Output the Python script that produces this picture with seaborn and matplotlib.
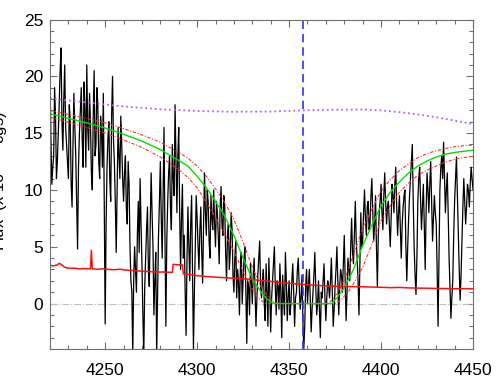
import numpy as np
import pandas as pd
import seaborn as sns
import matplotlib.pyplot as plt
from matplotlib.ticker import MultipleLocator

# spectrum, flux at whole Angstroms 4220..4450
spec_flux_int = [
    20.0, 10.5, 13.0, 16.5, 12.5, 17.5, 22.5, 13.5, 21.0, 14.0,
    11.0, 16.0, 8.5, 18.5, 13.0, 4.8, 15.0, 19.0, 12.0, 17.0,
    21.0, 13.5, 16.0, 10.0, 20.5, 14.0, 17.5, 11.0, 15.0, 18.5,
    -1.8, 12.0, 16.0, 9.0, 20.0, 12.5, 4.5, 15.5, 11.0, 14.0,
    9.0, 13.0, 7.0, 10.5, 2.0, -4.5, 5.0, 1.0, 9.0, 11.0,
    3.5, -4.5, 4.0, 8.5, 1.5, 11.5, 5.0, 2.0, -4.5, 6.0,
    12.5, 4.0, 15.5, -2.0, 9.0, 13.0, 6.5, 11.0, 17.5, 8.0,
    15.5, 3.0, 10.5, 6.0, -2.8, 8.5, 2.0, 9.5, -4.0, 5.0,
    7.5, 3.0, 8.5, 1.8, 11.5, 6.0, 9.0, 4.0, 7.5, 10.0,
    5.0, 8.0, 3.5, 10.3, 6.0, 8.5, 2.0, 7.0, 4.5, 6.5,
    1.0, 5.5, 3.0, -1.0, 4.5, 2.0, 5.0, -3.5, 1.5, 3.5,
    0.0, 4.0, -2.0, 2.5, 5.5, 0.5, 3.0, -1.5, 1.0, 4.0,
    -2.5, 2.0, 5.0, -1.0, 1.5, 3.5, -3.0, 0.5, 4.5, -1.5,
    2.0, 0.0, 3.5, -2.0, 1.0, 4.0, -0.5, 2.5, -4.0, 1.5,
    0.0, 3.0, -2.5, 1.0, 4.5, -1.0, 2.0, -3.0, 0.5, 3.5,
    -1.5, 2.0, 0.5, 4.0, -2.0, 1.5, 5.0, -1.0, 3.0, 1.0,
    6.0, -1.5, 4.0, 2.0, 7.5, 3.5, 9.0, 4.0, -1.0, 8.0,
    5.5, 10.0, 6.0, 9.0, 7.0, 11.0, 5.5, 9.5, 1.5, 8.0,
    10.5, 6.5, 11.5, 7.0, 9.0, 5.0, 10.5, 8.0, 12.0, 6.0,
    9.5, 4.0, 8.5, 10.0, 2.0, 7.5, 11.0, 14.0, 5.0, 0.8,
    9.0, 12.0, 6.5, 10.5, 3.0, 11.5, 8.0, 12.5, 5.5, 9.5,
    7.0, -2.0, 10.0, 13.0, 14.2, 8.0, 11.5, 4.0, -1.3, 2.0,
    9.0, 12.9, 6.0, 0.3, 5.5, 11.0, 7.0, 10.5, 8.5, 12.0,
    10.0,
]
# flux at the half Angstroms 4220.5..4449.5
spec_flux_half = [
    14.5, 12.0, 19.0, 11.0, 15.0, 20.5, 16.0, 18.0, 15.5, 12.5,
    17.5, 10.5, 14.0, 15.5, 9.0, 12.0, 17.0, 14.5, 19.5, 12.0,
    15.5, 18.5, 11.5, 16.5, 13.0, 19.0, 12.5, 16.5, 12.0, 9.0,
    7.0, 14.5, 11.0, 16.5, 14.5, 9.0, 10.0, 13.0, 16.5, 11.0,
    11.5, 8.5, 12.5, 5.0, 1.0, 2.0, 3.0, 6.0, 4.5, 7.0,
    -1.0, 1.5, 6.5, 3.0, 7.0, 8.0, -1.0, 4.5, 0.5, 9.0,
    7.5, 10.0, 6.0, 5.5, 11.5, 8.5, 14.0, 9.5, 12.5, 13.0,
    8.0, 7.5, 4.0, 1.0, 4.0, 5.0, 7.0, 2.5, 1.0, 9.5,
    5.0, 6.5, 4.5, 7.0, 8.0, 10.0, 5.5, 9.5, 6.5, 7.0,
    9.0, 6.0, 8.5, 7.0, 9.5, 4.5, 6.0, 3.0, 8.0, 2.5,
    4.0, 0.5, 2.0, 3.0, 0.0, 4.0, 1.0, 2.0, -1.0, 2.0,
    2.5, 1.0, 0.5, 4.0, 1.5, 2.0, 0.0, 3.5, -2.0, 1.0,
    0.5, 3.5, 1.5, 2.0, -0.5, 1.0, 2.5, -1.0, 2.0, 0.5,
    -1.0, 2.0, 1.0, 0.5, 3.0, 1.5, 0.5, -1.5, -2.0, 3.0,
    1.5, 0.5, -0.5, 2.5, 1.5, 0.0, -0.5, 1.0, 2.0, 0.5,
    0.5, 1.5, 2.0, 1.0, -0.5, 3.0, 2.0, 1.5, 2.5, 3.5,
    2.0, 1.0, 3.0, 5.0, 4.5, 6.0, 5.5, 2.0, 3.5, 5.0,
    8.0, 7.5, 8.5, 6.5, 9.5, 8.0, 7.0, 5.0, 6.0, 9.0,
    8.0, 9.5, 9.0, 8.5, 7.0, 7.5, 9.5, 10.5, 8.5, 8.0,
    6.5, 7.0, 9.5, 5.0, 5.0, 9.5, 12.5, 9.0, 2.5, 4.0,
    11.0, 9.0, 8.5, 7.0, 8.0, 10.0, 10.5, 9.0, 7.5, 8.0,
    3.0, 4.0, 12.0, 11.0, 11.0, 10.0, 8.0, 1.5, 0.5, 6.0,
    11.0, 9.5, 3.0, 2.5, 8.5, 9.0, 8.5, 10.0, 10.5, 11.0,
]

# model fit (green) and its upper / lower bounds (red dash-dot)
model_wave = [4220, 4230, 4240, 4250, 4260, 4270, 4280, 4290, 4295, 4300,
              4305, 4310, 4315, 4320, 4325, 4330, 4335, 4338, 4340, 4342,
              4350, 4360, 4370, 4373, 4376, 4380, 4385, 4390, 4395, 4400,
              4405, 4410, 4415, 4420, 4425, 4430, 4435, 4440, 4445, 4450]
model_flux = [16.7, 16.3, 15.9, 15.45, 14.9, 14.3, 13.55, 12.6, 12.1, 11.2,
              10.2, 9.0, 7.7, 6.0, 4.0, 2.2, 0.95, 0.4, 0.15, 0.0,
              0.0, 0.0, 0.0, 0.0, 0.5, 1.4, 3.0, 5.1, 6.9, 8.6,
              9.8, 10.7, 11.5, 12.1, 12.55, 12.9, 13.15, 13.3, 13.4, 13.5]

upper_wave = [4220, 4230, 4240, 4250, 4260, 4270, 4280, 4290, 4295, 4300,
              4305, 4310, 4315, 4320, 4325, 4330, 4335, 4339, 4342, 4344,
              4371, 4374, 4378, 4382, 4385, 4390, 4395, 4400, 4405, 4410,
              4415, 4420, 4425, 4430, 4435, 4440, 4445, 4450]
upper_flux = [17.0, 16.65, 16.3, 15.9, 15.4, 14.85, 14.2, 13.3, 12.8, 12.1,
              11.2, 10.1, 8.9, 7.4, 5.4, 3.2, 1.4, 0.5, 0.12, 0.0,
              0.0, 0.4, 1.4, 2.9, 4.3, 6.6, 8.3, 9.9, 10.9, 11.7,
              12.3, 12.85, 13.2, 13.45, 13.65, 13.8, 13.9, 13.95]

lower_wave = [4220, 4230, 4240, 4250, 4260, 4270, 4280, 4290, 4295, 4300,
              4305, 4310, 4315, 4320, 4325, 4330, 4333, 4336, 4338, 4375,
              4378, 4382, 4386, 4390, 4395, 4400, 4405, 4410, 4415, 4420,
              4425, 4430, 4435, 4440, 4445, 4450]
lower_flux = [16.4, 15.95, 15.5, 15.0, 14.4, 13.75, 12.9, 11.8, 11.1, 10.2,
              8.9, 7.6, 6.1, 4.6, 2.8, 1.3, 0.56, 0.1, 0.0, 0.0,
              0.3, 1.0, 2.0, 3.2, 5.2, 7.3, 8.6, 9.8, 10.6, 11.3,
              11.75, 12.1, 12.45, 12.7, 12.85, 12.95]

# error spectrum (red solid)
err_wave = [4220, 4222, 4224, 4225, 4226, 4228, 4230, 4233, 4236, 4239,
            4242, 4242.5, 4243, 4246, 4249, 4252, 4255, 4258, 4261, 4264,
            4267, 4270, 4273, 4276, 4279, 4282, 4285, 4286.5, 4287, 4289,
            4292, 4292.5, 4296, 4300, 4305, 4310, 4315, 4320, 4325, 4330,
            4335, 4340, 4345, 4350, 4355, 4360, 4365, 4370, 4375, 4380,
            4385, 4390, 4395, 4400, 4405, 4410, 4415, 4420, 4425, 4430,
            4435, 4440, 4445, 4450]
err_flux = [3.36, 3.32, 3.40, 3.55, 3.45, 3.20, 3.10, 3.12, 3.05, 3.08,
            3.05, 4.7, 3.06, 3.02, 3.05, 3.00, 2.98, 3.02, 2.95, 2.92,
            2.88, 2.85, 2.82, 2.80, 2.77, 2.78, 2.75, 2.75, 3.45, 3.42,
            3.40, 2.62, 2.55, 2.45, 2.38, 2.32, 2.28, 2.22, 2.18, 2.12,
            2.02, 1.95, 1.85, 1.78, 1.72, 1.66, 1.60, 1.55, 1.52, 1.50,
            1.49, 1.48, 1.45, 1.43, 1.40, 1.42, 1.38, 1.36, 1.35, 1.33,
            1.32, 1.30, 1.31, 1.30]

# continuum (purple dotted)
cont_wave = [4220, 4240, 4260, 4280, 4300, 4320, 4340, 4357, 4370, 4390,
             4400, 4410, 4420, 4430, 4440, 4450]
cont_flux = [18.05, 17.7, 17.35, 17.1, 16.95, 16.88, 16.9, 17.0, 17.05, 17.08,
             17.0, 16.85, 16.65, 16.4, 16.1, 15.8]

line_center = 4357.4

# put whole and half Angstrom samples together in wavelength order
spec = pd.DataFrame({
    'wave': np.concatenate([np.arange(4220, 4451), np.arange(4220.5, 4450, 1.0)]),
    'flux': spec_flux_int + spec_flux_half,
}).sort_values('wave')

sns.set_style("ticks")
plt.rcParams['font.family'] = ['Liberation Sans', 'DejaVu Sans']

fig = plt.figure(figsize=(4.98, 3.88), dpi=100)
ax = fig.add_axes([0.1004, 0.1005, 0.8494, 0.8492])

ax.axhline(0, color='#c0c0c0', ls='-.', lw=0.8)

sns.lineplot(data=spec, x='wave', y='flux', ax=ax, color='black', lw=0.9,
             estimator=None, sort=False)
sns.lineplot(x=cont_wave, y=cont_flux, ax=ax, color='#b060ff', lw=1.3,
             linestyle=':', estimator=None, sort=False)
sns.lineplot(x=upper_wave, y=upper_flux, ax=ax, color='#ff3030', lw=0.8,
             linestyle=(0, (3, 1.5, 1, 1.5)), estimator=None, sort=False)
sns.lineplot(x=lower_wave, y=lower_flux, ax=ax, color='#ff3030', lw=0.8,
             linestyle=(0, (3, 1.5, 1, 1.5)), estimator=None, sort=False)
sns.lineplot(x=model_wave, y=model_flux, ax=ax, color='#00e000', lw=1.0,
             estimator=None, sort=False)
sns.lineplot(x=err_wave, y=err_flux, ax=ax, color='#ff1010', lw=1.1,
             estimator=None, sort=False)

ax.axvline(line_center, color='#3030ff', ls=(0, (5, 3)), lw=1.2)

ax.set_xlim(4220, 4450)
ax.set_ylim(-4, 25)
ax.xaxis.set_major_locator(MultipleLocator(50))
ax.xaxis.set_minor_locator(MultipleLocator(10))
ax.yaxis.set_major_locator(MultipleLocator(5))
ax.yaxis.set_minor_locator(MultipleLocator(1))
ax.tick_params(which='both', direction='in', top=True, right=True,
               color='#707070', width=0.8, labelsize=12.5, labelcolor='black')
ax.tick_params(which='major', length=5)
ax.tick_params(which='minor', length=2.8)
ax.tick_params(axis='x', which='major', pad=10)
ax.tick_params(axis='y', which='major', pad=5)
for s in ax.spines.values():
    s.set_color('#707070')
    s.set_linewidth(0.8)

ax.set_xlabel('')
ax.set_ylabel('Flux  (x 10$^{-17}$ cgs)', fontsize=12, color='black')
ax.yaxis.set_label_coords(-0.095, 0.51)

fig.savefig('out.png', dpi=100)
